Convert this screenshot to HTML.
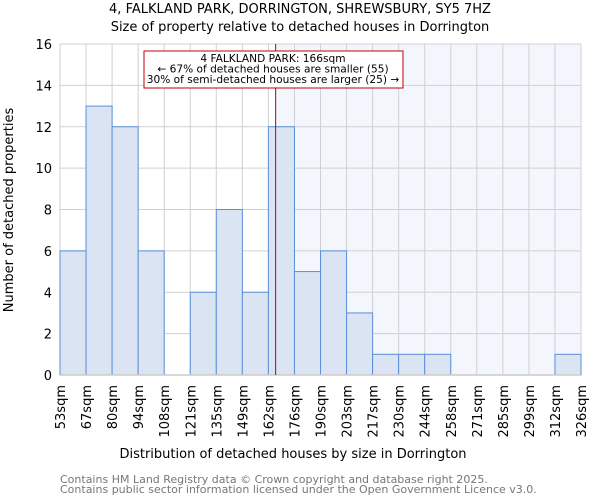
<!DOCTYPE html>
<html><head><meta charset="utf-8"><style>
body{margin:0;background:#fff;font-family:"DejaVu Sans","Liberation Sans",sans-serif;}
svg text{font-family:"DejaVu Sans","Liberation Sans",sans-serif;}
</style></head><body>
<svg id="c" width="600" height="500" xmlns="http://www.w3.org/2000/svg">
<text x="300" y="13" text-anchor="middle" font-size="13">4, FALKLAND PARK, DORRINGTON, SHREWSBURY, SY5 7HZ</text>
<text x="300" y="31" text-anchor="middle" font-size="13">Size of property relative to detached houses in Dorrington</text>
<g id="plot"></g>
<text x="293" y="458" text-anchor="middle" font-size="13">Distribution of detached houses by size in Dorrington</text>
<text transform="translate(13,210) rotate(-90)" text-anchor="middle" font-size="13">Number of detached properties</text>
<text x="60" y="483" font-size="11" fill="#777">Contains HM Land Registry data © Crown copyright and database right 2025.</text>
<text x="60" y="493" font-size="11" fill="#777">Contains public sector information licensed under the Open Government Licence v3.0.</text>
</svg>
<script>
const tickLabels=["53sqm","67sqm","80sqm","94sqm","108sqm","121sqm","135sqm","149sqm","162sqm","176sqm","190sqm","203sqm","217sqm","230sqm","244sqm","258sqm","271sqm","285sqm","299sqm","312sqm","326sqm"];
const binEdges=[53,66.65,80.3,93.95,107.6,121.25,134.9,148.55,162.2,175.85,189.5,203.15,216.8,230.45,244.1,257.75,271.4,285.05,298.7,312.35,326];
const counts=[6,13,12,6,0,4,8,4,12,5,6,3,1,1,1,0,0,0,0,1];
const yTicks=[0,2,4,6,8,10,12,14,16];
const propertySize=166;
const L=60,R=581,T=44,B=375;
const xs=v=>L+(v-53)/(326-53)*(R-L);
const ys=v=>B-v/16*(B-T);
const g=document.getElementById('plot');
const NS="http://www.w3.org/2000/svg";
function mk(t,a){const e=document.createElementNS(NS,t);for(const k in a)e.setAttribute(k,a[k]);g.appendChild(e);return e;}
let e=mk('rect',{x:xs(propertySize),y:T,width:R-xs(propertySize),height:B-T,fill:'#f3f6fd'});


yTicks.forEach(v=>{let l=mk('line',{x1:L,x2:R,y1:ys(v),y2:ys(v),stroke:'#d0d0d0','stroke-width':1});


let t=mk('text',{x:L-8,y:ys(v)+5,'text-anchor':'end','font-size':13});t.textContent=v;

});
binEdges.forEach(v=>{let l=mk('line',{x1:xs(v),x2:xs(v),y1:T,y2:B,stroke:'#d0d0d0','stroke-width':1});

});
counts.forEach((c,i)=>{if(c<=0)return;const x0=xs(binEdges[i]),x1=xs(binEdges[i+1]);
let r=mk('rect',{x:x0,y:ys(c),width:x1-x0,height:B-ys(c),fill:'#dae4f3',stroke:'#5b8fd9','stroke-width':1});

});
let ax=mk('line',{x1:L,x2:R,y1:B,y2:B,stroke:'#ccc','stroke-width':1.5});


tickLabels.forEach((s,i)=>{const x=xs(binEdges[i]);let t=mk('text',{transform:`translate(${x+5},385) rotate(-90)`,'text-anchor':'end','font-size':13});t.textContent=s;

});
let pl=mk('line',{x1:xs(propertySize),x2:xs(propertySize),y1:T,y2:B,stroke:'#c00000','stroke-width':1});


let bx=mk('rect',{x:144,y:51,width:259,height:37,fill:'#fff',stroke:'#c00000','stroke-width':1});


["4 FALKLAND PARK: 166sqm","← 67% of detached houses are smaller (55)","30% of semi-detached houses are larger (25) →"].forEach((s,i)=>{let t=mk('text',{x:273,y:62+i*10.5,'text-anchor':'middle','font-size':10.6});t.textContent=s;

});
</script>
</body></html>
